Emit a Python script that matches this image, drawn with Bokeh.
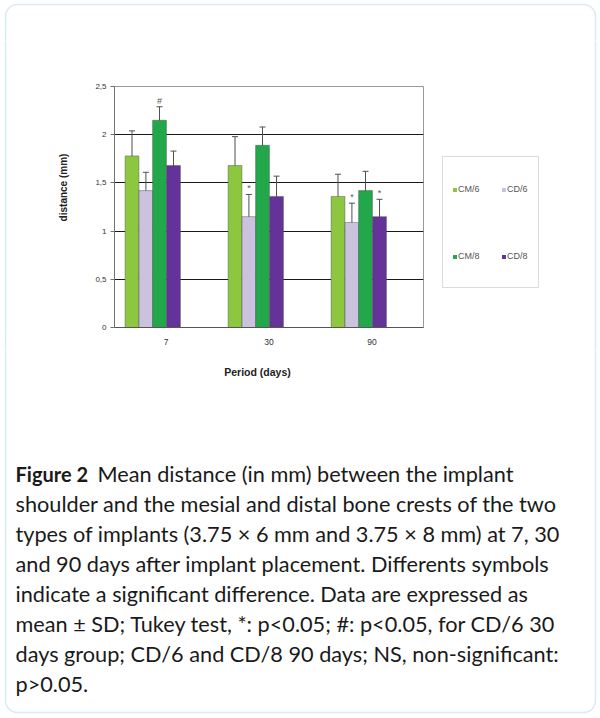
import math
from bokeh.plotting import figure
from bokeh.layouts import column, row
from bokeh.models import (ColumnDataSource, FactorRange, Range1d, FixedTicker, Whisker, TeeHead,
                          Legend, LegendItem, BoxAnnotation)
from bokeh.transform import dodge
from bokeh.core.properties import value
from bokeh.embed import file_html
from bokeh.resources import INLINE

# ---------------- data ----------------
periods = ["7", "30", "90"]
series = ["CM/6", "CD/6", "CM/8", "CD/8"]
cm6 = [1.78, 1.68, 1.36]
cm6_sd = [0.26, 0.30, 0.23]
cd6 = [1.42, 1.15, 1.09]
cd6_sd = [0.19, 0.23, 0.20]
cm8 = [2.15, 1.89, 1.42]
cm8_sd = [0.14, 0.19, 0.20]
cd8 = [1.68, 1.36, 1.15]
cd8_sd = [0.15, 0.21, 0.18]
cm6_sig = ["", "", ""]
cd6_sig = ["", "*", "*"]
cm8_sig = ["#", "", ""]
cd8_sig = ["", "", "*"]
y_ticks = [0, 0.5, 1, 1.5, 2, 2.5]
y_tick_labels = ["0", "0,5", "1", "1,5", "2", "2,5"]
x_title = "Period (days)"
y_title = "distance (mm)"
caption_bold = "Figure 2"
caption_lines = [
    "Mean distance (in mm) between the implant",
    "shoulder and the mesial and distal bone crests of the two",
    "types of implants (3.75 \u00d7 6 mm and 3.75 \u00d7 8 mm) at 7, 30",
    "and 90 days after implant placement. Differents symbols",
    "indicate a significant difference. Data are expressed as",
    "mean \u00b1 SD; Tukey test, *: p<0.05; #: p<0.05, for CD/6 30",
    "days group; CD/6 and CD/8 90 days; NS, non-significant:",
    "p>0.05.",
]

means = [cm6, cd6, cm8, cd8]
sds = [cm6_sd, cd6_sd, cm8_sd, cd8_sd]
sigs = [cm6_sig, cd6_sig, cm8_sig, cd8_sig]

# ---------------- style / layout ----------------
colors = ["#8DC63F", "#CBC2E0", "#22A84A", "#63339A"]
offsets = [-0.33, -0.195, -0.063, 0.073]
bar_w = 0.134
W, H = 600, 718
FL, FR, FT, FB = 114, 423, 86, 327      # chart frame, page pixels
X_SPLIT1, X_SPLIT2 = 80, 430             # column splits of the middle band
Y_SPLIT1, Y_SPLIT2 = 40, 350             # row splits
FRAME_COLOR = "#7DBDD0"
CAP_FONT = "Lato"
CAP_SIZE = "21.7px"
CAP_BOLD_SIZE = "20px"
TEXT_DARK = "#1A1A1A"


def canvas_fig(x0, x1, y0, y1):
    """A plain drawing surface whose data units are page pixels (y downwards)."""
    f = figure(width=x1 - x0, height=y1 - y0,
               x_range=Range1d(x0, x1), y_range=Range1d(y1, y0),
               output_backend="svg", toolbar_location=None,
               x_axis_type=None, y_axis_type=None,
               min_border=0, min_border_left=0, min_border_right=0,
               min_border_top=0, min_border_bottom=0)
    f.title.visible = False
    f.outline_line_color = None
    f.grid.visible = False
    f.background_fill_color = "white"
    f.border_fill_color = "white"
    # the page's rounded frame; each surface shows the part that falls in it
    f.add_layout(BoxAnnotation(left=5, right=595, top=4, bottom=712,
                               border_radius=12, fill_alpha=0,
                               line_color=FRAME_COLOR, line_width=1.5))
    return f


# ---------------- chart ----------------
data = {"period": periods}
for s, m, sd, sg in zip(series, means, sds, sigs):
    data[s] = m
    data[s + "_up"] = [a + b for a, b in zip(m, sd)]
    data[s + "_lo"] = [a - b for a, b in zip(m, sd)]
    data[s + "_sig"] = sg
src = ColumnDataSource(data)

cw, ch = X_SPLIT2 - X_SPLIT1, Y_SPLIT2 - Y_SPLIT1
p = figure(width=cw, height=ch,
           x_range=FactorRange(*periods, range_padding=0),
           y_range=Range1d(0, 2.5),
           output_backend="svg", toolbar_location=None,
           min_border_left=FL - X_SPLIT1, min_border_right=X_SPLIT2 - FR,
           min_border_top=FT - Y_SPLIT1, min_border_bottom=Y_SPLIT2 - FB)
p.title.visible = False
p.background_fill_color = "white"
p.border_fill_color = "white"
p.outline_line_color = "#9A9A9A"
p.outline_line_width = 1

p.xgrid.visible = False
p.ygrid.ticker = FixedTicker(ticks=y_ticks[1:-1])
p.ygrid.grid_line_color = "#1A1A1A"
p.ygrid.grid_line_width = 1

p.yaxis.ticker = FixedTicker(ticks=y_ticks)
p.yaxis.major_label_overrides = {t: l for t, l in zip(y_ticks, y_tick_labels)}
p.yaxis.major_label_text_font = "Liberation Sans"
p.yaxis.major_label_text_font_size = "8px"
p.yaxis.major_label_text_color = "#333333"
p.yaxis.axis_line_color = "#707070"
p.yaxis.major_tick_line_color = "#707070"
p.yaxis.major_tick_out = 4
p.yaxis.major_tick_in = 0
p.yaxis.minor_tick_line_color = None
p.yaxis.major_label_standoff = 4

p.xaxis.major_label_text_font = "Liberation Sans"
p.xaxis.major_label_text_font_size = "8.5px"
p.xaxis.major_label_text_color = "#333333"
p.xaxis.axis_line_color = "#555555"
p.xaxis.major_tick_line_color = None
p.xaxis.major_label_standoff = 5

for i, s in enumerate(series):
    xs = dodge("period", offsets[i], range=p.x_range)
    p.vbar(x=xs, top=s, width=bar_w, source=src,
           fill_color=colors[i], line_color="#4D4D4D", line_alpha=0.45, line_width=1)
    p.add_layout(Whisker(source=src, base=dodge("period", offsets[i], range=p.x_range),
                         upper=s + "_up", lower=s + "_lo",
                         line_color="#505050", line_width=1,
                         upper_head=TeeHead(size=6, line_color="#505050", line_width=1),
                         lower_head=TeeHead(size=6, line_color="#505050", line_width=1)))
    p.text(x=dodge("period", offsets[i], range=p.x_range), y=s + "_up", text=s + "_sig",
           source=src, text_align="center", text_baseline="bottom", y_offset=-1,
           text_font=value("Liberation Sans"), text_font_size="9px", text_color="#555555")

# ---------------- surrounding surfaces ----------------
top = canvas_fig(0, W, 0, Y_SPLIT1)

left = canvas_fig(0, X_SPLIT1, Y_SPLIT1, Y_SPLIT2)
left.text(x=[63], y=[187], text=[y_title], angle=math.pi / 2,
          text_align="center", text_baseline="middle",
          text_font=value("Liberation Sans"), text_font_style="bold",
          text_font_size="10px", text_color="#222222")

leg = canvas_fig(X_SPLIT2, W, Y_SPLIT1, Y_SPLIT2)
leg.add_layout(BoxAnnotation(left=442, right=538, top=156, bottom=287,
                             fill_alpha=0, line_color="#8C8C8C", line_width=1))
# swatch renderers for the legend (no drawable data; they only lend their colour)
swatches = [leg.vbar(x=[float("nan")], top=[float("nan")], width=1,
                     fill_color=c, line_color=None)
            for c in colors]
for col_i, (a, b) in enumerate([(0, 2), (1, 3)]):
    lg = Legend(items=[LegendItem(label=series[a], renderers=[swatches[a]]),
                       LegendItem(label=series[b], renderers=[swatches[b]])],
                location=(452 + 49 * col_i - X_SPLIT2, Y_SPLIT2 - 261),
                orientation="vertical", spacing=57, padding=0, margin=0,
                glyph_width=5, glyph_height=5, label_standoff=1,
                label_height=8, label_width=20,
                label_text_font="Liberation Sans", label_text_font_size="9px",
                label_text_color="#555555",
                border_line_color=None, background_fill_alpha=0)
    leg.add_layout(lg)

bottom = canvas_fig(0, W, Y_SPLIT2, H)
bottom.text(x=[257], y=[371], text=[x_title], text_align="center", text_baseline="middle",
            text_font=value("Liberation Sans"), text_font_style="bold",
            text_font_size="10.5px", text_color="#222222")
bottom.text(x=[15], y=[473], text=[caption_bold], text_baseline="middle",
            text_font=value(CAP_FONT), text_font_style="bold",
            text_font_size=CAP_BOLD_SIZE, text_color=TEXT_DARK)
bottom.text(x=[97] + [15] * (len(caption_lines) - 1),
            y=[473 + 30 * k for k in range(len(caption_lines))],
            text=caption_lines, text_baseline="middle",
            text_font=value(CAP_FONT), text_font_size=CAP_SIZE, text_color=TEXT_DARK)

page = column(top, row(column(left), p, column(leg), spacing=0), bottom, spacing=0)
open("out.html", "w").write(file_html(page, INLINE))
